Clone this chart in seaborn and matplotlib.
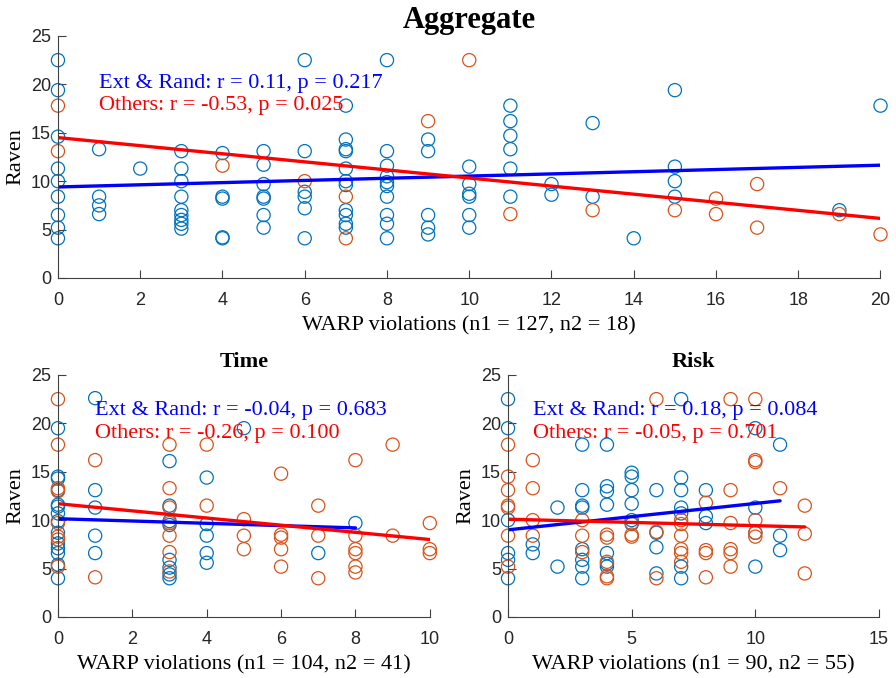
import matplotlib
matplotlib.use("Agg")
import matplotlib.pyplot as plt
import seaborn as sns

EXT_COLOR = "#0072BD"
OTH_COLOR = "#D95319"

# Aggregate panel
AGG_EXT_X = [0] * 9 + [1] * 4 + [2] + [3] * 9 + [4] * 5 + [5] * 7 + [6] * 6 + [7] * 11 + [8] * 10 \
    + [9] * 5 + [10] * 6 + [11] * 6 + [12] * 2 + [13] * 2 + [14] + [15] * 4 + [19] + [20]
AGG_EXT_Y = [22.5, 19.4, 14.6, 11.3, 10.0, 8.4, 6.5, 5.2, 4.1,
             13.3, 8.4, 7.5, 6.6,
             11.3,
             13.1, 11.3, 10.0, 8.4, 7.0, 6.5, 6.0, 5.6, 5.1,
             12.9, 8.4, 8.2, 4.2, 4.1,
             13.1, 11.7, 9.7, 8.4, 8.2, 6.5, 5.2,
             22.5, 13.1, 8.9, 8.4, 7.2, 4.1,
             17.8, 14.3, 13.3, 13.1, 11.3, 10.0, 9.6, 7.0, 6.5, 5.6, 5.2,
             22.5, 13.1, 11.6, 10.5, 9.9, 9.5, 8.4, 6.5, 5.6, 4.1,
             14.3, 13.1, 6.5, 5.2, 4.5,
             11.5, 9.7, 8.7, 8.4, 6.5, 5.2,
             17.8, 16.2, 14.7, 13.3, 11.3, 8.4,
             9.7, 8.6,
             16.0, 8.4,
             4.1,
             19.4, 11.5, 10.0, 8.4,
             7.0,
             17.8]
AGG_OTH_X = [0, 0, 4, 6, 7, 7, 9, 10, 11, 13, 15, 16, 16, 17, 17, 19, 20]
AGG_OTH_Y = [17.8, 13.1, 11.6, 10.0, 8.4, 4.1, 16.2, 22.5, 6.6, 7.0, 7.0, 8.2, 6.6, 9.7, 5.2, 6.6, 4.5]
AGG_EXT_FIT_X = [0, 20]
AGG_EXT_FIT_Y = [9.4, 11.65]
AGG_OTH_FIT_X = [0, 20]
AGG_OTH_FIT_Y = [14.5, 6.15]

# Time panel
TIME_EXT_X = [0] * 14 + [1] * 5 + [3] * 8 + [4] * 5 + [5] + [7] + [8]
TIME_EXT_Y = [19.5, 14.5, 14.3, 13.1, 11.6, 11.4, 10.7, 9.9, 8.7, 7.6, 7.1, 6.6, 5.4, 4.0,
              22.6, 13.1, 11.3, 8.4, 6.6,
              16.1, 11.5, 9.9, 9.5, 5.9, 5.1, 4.4, 4.0,
              14.4, 9.6, 8.4, 6.6, 5.6,
              19.5,
              6.6,
              9.7]
TIME_OTH_X = [0] * 8 + [1] * 2 + [3] * 7 + [4] * 2 + [5] * 3 + [6] * 5 + [7] * 3 + [8] * 6 \
    + [9] * 2 + [10] * 3
TIME_OTH_Y = [22.5, 17.8, 13.3, 13.0, 9.7, 8.3, 8.0, 5.2,
              16.2, 4.1,
              17.8, 13.3, 11.3, 9.7, 8.4, 6.7, 4.7,
              17.8, 11.5,
              10.1, 8.4, 7.0,
              14.8, 8.5, 8.2, 7.0, 5.2,
              11.5, 8.4, 4.0,
              16.2, 8.4, 7.0, 6.6, 5.2, 4.6,
              17.8, 8.4,
              9.7, 7.0, 6.6]
TIME_EXT_FIT_X = [0, 8]
TIME_EXT_FIT_Y = [10.15, 9.2]
TIME_OTH_FIT_X = [0, 10]
TIME_OTH_FIT_Y = [11.7, 8.0]

# Risk panel
RISK_EXT_X = [0] * 6 + [1] * 2 + [2] * 2 + [3] * 8 + [4] * 7 + [5] * 6 + [6] * 4 + [7] * 7 \
    + [8] * 3 + [10] * 4 + [11] * 3
RISK_EXT_Y = [22.5, 19.5, 10.0, 6.6, 5.9, 4.0,
              7.5, 6.6,
              11.3, 5.2,
              17.8, 13.1, 11.5, 11.3, 7.0, 5.9, 5.2, 4.0,
              17.8, 13.5, 13.0, 11.6, 6.6, 5.5, 5.2,
              14.9, 14.5, 13.1, 11.7, 10.0, 9.6,
              13.1, 8.7, 7.2, 4.5,
              22.5, 14.4, 13.1, 11.3, 10.7, 5.2, 4.0,
              13.1, 10.4, 9.7,
              19.5, 11.3, 8.7, 5.2,
              17.8, 8.4, 6.9]
RISK_OTH_X = [0] * 7 + [1] * 4 + [3] * 3 + [4] * 5 + [5] * 3 + [6] * 3 + [7] * 6 + [8] * 4 \
    + [9] * 6 + [10] * 6 + [11] + [12] * 3
RISK_OTH_Y = [17.8, 14.5, 13.1, 11.5, 11.3, 8.4, 5.2,
              16.2, 13.3, 10.0, 8.4,
              10.0, 8.4, 6.7,
              8.5, 8.2, 5.7, 4.2, 4.0,
              9.7, 8.5, 8.3,
              22.5, 8.8, 4.0,
              10.0, 9.6, 8.4, 7.0, 6.6, 5.7,
              11.8, 6.9, 6.6, 4.1,
              22.5, 13.1, 9.7, 7.0, 6.6, 5.2,
              22.5, 16.2, 16.0, 10.0, 8.7, 8.3,
              13.3,
              11.5, 8.6, 4.5]
RISK_EXT_FIT_X = [0, 11]
RISK_EXT_FIT_Y = [9.0, 12.0]
RISK_OTH_FIT_X = [0, 12]
RISK_OTH_FIT_Y = [10.1, 9.3]

PANELS = [
    {"title": "Aggregate", "xlim": (0, 20), "xticks": range(0, 21, 2),
     "ext": (AGG_EXT_X, AGG_EXT_Y), "oth": (AGG_OTH_X, AGG_OTH_Y),
     "ext_fit": (AGG_EXT_FIT_X, AGG_EXT_FIT_Y), "oth_fit": (AGG_OTH_FIT_X, AGG_OTH_FIT_Y),
     "ext_txt": "Ext & Rand: r = 0.11, p = 0.217", "oth_txt": "Others: r = -0.53, p = 0.025",
     "txt_x": 1.0, "txt_y": (20.1, 17.8), "xlabel": "WARP violations (n1 = 127, n2 = 18)",
     "title_size": 22},
    {"title": "Time", "xlim": (0, 10), "xticks": range(0, 11, 2),
     "ext": (TIME_EXT_X, TIME_EXT_Y), "oth": (TIME_OTH_X, TIME_OTH_Y),
     "ext_fit": (TIME_EXT_FIT_X, TIME_EXT_FIT_Y), "oth_fit": (TIME_OTH_FIT_X, TIME_OTH_FIT_Y),
     "ext_txt": "Ext & Rand: r = -0.04, p = 0.683", "oth_txt": "Others: r = -0.26, p = 0.100",
     "txt_x": 1.0, "txt_y": (21.3, 19.0), "xlabel": "WARP violations (n1 = 104, n2 = 41)",
     "title_size": 16},
    {"title": "Risk", "xlim": (0, 15), "xticks": range(0, 16, 5),
     "ext": (RISK_EXT_X, RISK_EXT_Y), "oth": (RISK_OTH_X, RISK_OTH_Y),
     "ext_fit": (RISK_EXT_FIT_X, RISK_EXT_FIT_Y), "oth_fit": (RISK_OTH_FIT_X, RISK_OTH_FIT_Y),
     "ext_txt": "Ext & Rand: r = 0.18, p = 0.084", "oth_txt": "Others: r = -0.05, p = 0.701",
     "txt_x": 1.0, "txt_y": (21.3, 19.0), "xlabel": "WARP violations (n1 = 90, n2 = 55)",
     "title_size": 16},
]

AXES_RECTS = [
    [0.0647, 0.590, 0.918, 0.357],
    [0.0647, 0.090, 0.415, 0.357],
    [0.567, 0.090, 0.414, 0.357],
]

SERIF = ["Liberation Serif", "DejaVu Serif"]
AXIS_GRAY = "#404040"


def hollow_scatter(ax, xs, ys, color):
    sns.scatterplot(x=xs, y=ys, ax=ax, s=90, marker="o", color=color, linewidth=0.9, clip_on=False)
    pts = ax.collections[-1]
    pts.set_facecolor("none")
    pts.set_edgecolor(color)


def draw_panel(ax, p):
    hollow_scatter(ax, *p["ext"], EXT_COLOR)
    hollow_scatter(ax, *p["oth"], OTH_COLOR)
    sns.lineplot(x=p["ext_fit"][0], y=p["ext_fit"][1], ax=ax, color="#0000FF", linewidth=2.4)
    sns.lineplot(x=p["oth_fit"][0], y=p["oth_fit"][1], ax=ax, color="#FF0000", linewidth=2.4)

    ax.text(p["txt_x"], p["txt_y"][0], p["ext_txt"], color="#0000FF", fontsize=16,
            family=SERIF, va="center", ha="left")
    ax.text(p["txt_x"], p["txt_y"][1], p["oth_txt"], color="#FF0000", fontsize=16,
            family=SERIF, va="center", ha="left")

    ax.set_xlim(*p["xlim"])
    ax.set_ylim(0, 25)
    ax.set_xticks(list(p["xticks"]))
    ax.set_yticks(range(0, 26, 5))
    ax.set_xlabel(p["xlabel"], family=SERIF, fontsize=16, labelpad=5, color="black")
    ax.set_ylabel("Raven", family=SERIF, fontsize=16, labelpad=4, color="black")
    ax.set_title(p["title"], family=SERIF, fontsize=p["title_size"], fontweight="bold",
                 pad=6, color="black")

    ax.tick_params(axis="both", direction="in", length=6, width=0.8, colors=AXIS_GRAY,
                   labelcolor="#262626", labelsize=13)
    ax.tick_params(axis="x", pad=10)
    ax.tick_params(axis="y", pad=5)
    for lab in ax.get_xticklabels() + ax.get_yticklabels():
        lab.set_family(["Liberation Sans", "DejaVu Sans"])
    sns.despine(ax=ax)
    for side in ("left", "bottom"):
        ax.spines[side].set_color(AXIS_GRAY)
        ax.spines[side].set_linewidth(0.8)


def main():
    sns.set_style("ticks")
    fig = plt.figure(figsize=(8.96, 6.78), dpi=100)
    for rect, panel in zip(AXES_RECTS, PANELS):
        ax = fig.add_axes(rect)
        draw_panel(ax, panel)
    fig.savefig("out.png", dpi=100)
    plt.close(fig)


if __name__ == "__main__":
    main()
